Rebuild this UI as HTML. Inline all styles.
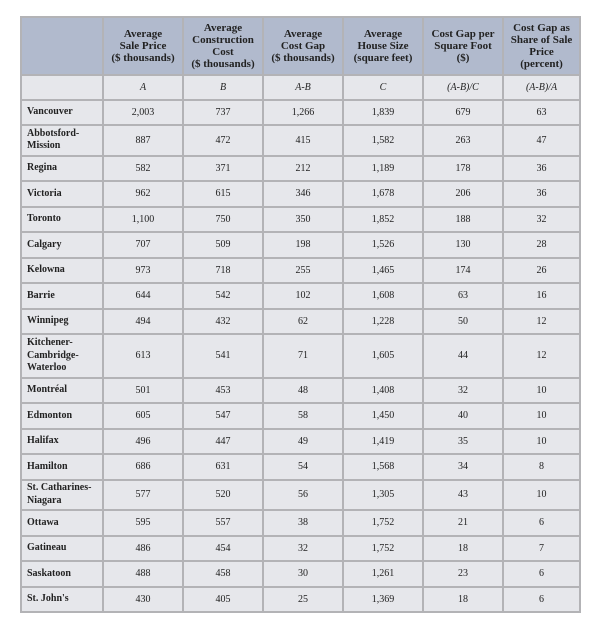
<!DOCTYPE html>
<html><head><meta charset="utf-8"><style>
html,body{margin:0;padding:0;background:#fff;width:602px;height:632px;overflow:hidden}
table{position:absolute;left:20px;top:16px;width:559px;border-collapse:collapse;table-layout:fixed;font-family:"Liberation Serif",serif;color:#222}
td,th{border:2px solid #b3b3b6;padding:0;text-align:center;font-size:10px;background:#e6e7eb}
th{background:#b1bacd;font-size:11px;line-height:12px;font-weight:bold;vertical-align:middle}
td.n{text-align:left;padding-left:5px;font-weight:bold;line-height:12.5px}
tr.s td{height:23.5px}
tr.d td{height:28.5px}
tr.t td{height:41.5px}
.f td{font-style:italic;height:22.5px}
</style></head><body>
<table>
<colgroup><col style="width:82px"><col style="width:80px"><col style="width:80px"><col style="width:80px"><col style="width:80px"><col style="width:80px"><col style="width:77px"></colgroup>
<tr style="height:58px"><th></th><th>Average<br>Sale Price<br>($ thousands)</th><th>Average<br>Construction<br>Cost<br>($ thousands)</th><th>Average<br>Cost Gap<br>($ thousands)</th><th>Average<br>House Size<br>(square feet)</th><th>Cost Gap per<br>Square Foot<br>($)</th><th>Cost Gap as<br>Share of Sale<br>Price<br>(percent)</th></tr>
<tr class="f"><td></td><td>A</td><td>B</td><td>A-B</td><td>C</td><td>(A-B)/C</td><td>(A-B)/A</td></tr>
<tr class="s"><td class="n">Vancouver</td><td>2,003</td><td>737</td><td>1,266</td><td>1,839</td><td>679</td><td>63</td></tr>
<tr class="d"><td class="n">Abbotsford-<br>Mission</td><td>887</td><td>472</td><td>415</td><td>1,582</td><td>263</td><td>47</td></tr>
<tr class="s"><td class="n">Regina</td><td>582</td><td>371</td><td>212</td><td>1,189</td><td>178</td><td>36</td></tr>
<tr class="s"><td class="n">Victoria</td><td>962</td><td>615</td><td>346</td><td>1,678</td><td>206</td><td>36</td></tr>
<tr class="s"><td class="n">Toronto</td><td>1,100</td><td>750</td><td>350</td><td>1,852</td><td>188</td><td>32</td></tr>
<tr class="s"><td class="n">Calgary</td><td>707</td><td>509</td><td>198</td><td>1,526</td><td>130</td><td>28</td></tr>
<tr class="s"><td class="n">Kelowna</td><td>973</td><td>718</td><td>255</td><td>1,465</td><td>174</td><td>26</td></tr>
<tr class="s"><td class="n">Barrie</td><td>644</td><td>542</td><td>102</td><td>1,608</td><td>63</td><td>16</td></tr>
<tr class="s"><td class="n">Winnipeg</td><td>494</td><td>432</td><td>62</td><td>1,228</td><td>50</td><td>12</td></tr>
<tr class="t"><td class="n">Kitchener-<br>Cambridge-<br>Waterloo</td><td>613</td><td>541</td><td>71</td><td>1,605</td><td>44</td><td>12</td></tr>
<tr class="s"><td class="n">Montréal</td><td>501</td><td>453</td><td>48</td><td>1,408</td><td>32</td><td>10</td></tr>
<tr class="s"><td class="n">Edmonton</td><td>605</td><td>547</td><td>58</td><td>1,450</td><td>40</td><td>10</td></tr>
<tr class="s"><td class="n">Halifax</td><td>496</td><td>447</td><td>49</td><td>1,419</td><td>35</td><td>10</td></tr>
<tr class="s"><td class="n">Hamilton</td><td>686</td><td>631</td><td>54</td><td>1,568</td><td>34</td><td>8</td></tr>
<tr class="d"><td class="n">St. Catharines-<br>Niagara</td><td>577</td><td>520</td><td>56</td><td>1,305</td><td>43</td><td>10</td></tr>
<tr class="s"><td class="n">Ottawa</td><td>595</td><td>557</td><td>38</td><td>1,752</td><td>21</td><td>6</td></tr>
<tr class="s"><td class="n">Gatineau</td><td>486</td><td>454</td><td>32</td><td>1,752</td><td>18</td><td>7</td></tr>
<tr class="s"><td class="n">Saskatoon</td><td>488</td><td>458</td><td>30</td><td>1,261</td><td>23</td><td>6</td></tr>
<tr class="s"><td class="n">St. John's</td><td>430</td><td>405</td><td>25</td><td>1,369</td><td>18</td><td>6</td></tr>
</table>
</body></html>
